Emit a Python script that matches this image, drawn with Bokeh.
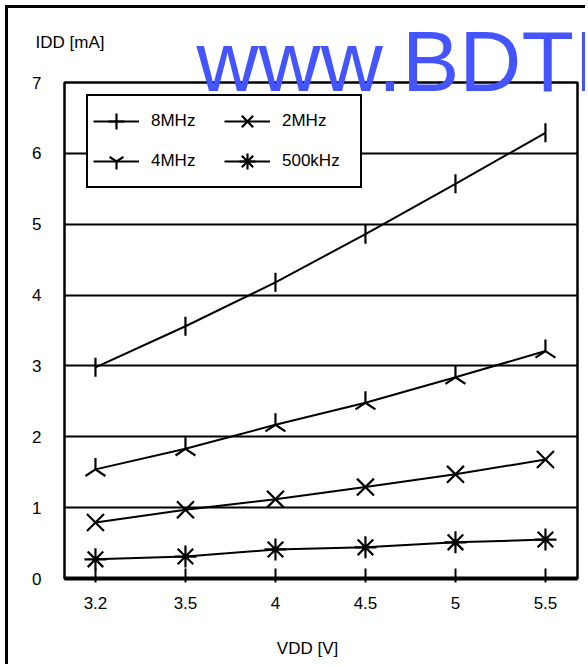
import math
from bokeh.plotting import figure
from bokeh.models import Range1d, FixedTicker, Legend, LegendItem
from bokeh.core.properties import value
from bokeh.embed import file_html
from bokeh.resources import INLINE

# ---- data ----
vdd_labels = ["3.2", "3.5", "4", "4.5", "5", "5.5"]
idd_8mhz = [2.98, 3.56, 4.18, 4.86, 5.57, 6.29]
idd_4mhz = [1.54, 1.83, 2.17, 2.48, 2.84, 3.21]
idd_2mhz = [0.79, 0.97, 1.12, 1.29, 1.47, 1.68]
idd_500khz = [0.27, 0.31, 0.41, 0.44, 0.51, 0.55]
y_ticks = [0, 1, 2, 3, 4, 5, 6, 7]
series_names = ["8MHz", "4MHz", "2MHz", "500kHz"]
y_title = "IDD [mA]"
x_title = "VDD [V]"
watermark = "www.BDTIC.com"

FONT = "Liberation Sans"

# ---- layout (pixels) ----
W, H = 580, 659
ORIGIN = 8                     # page offset of the figure content (margin + border)
FL, FT, FR, FB = 64, 82, 577, 578   # frame edges in page pixels
X0, X1 = -0.344, 5.356
Y0, Y1 = 0, 7


def px2data(px, py):
    """convert a page pixel position into data coordinates (for free text)"""
    x = X0 + (px - FL) * (X1 - X0) / (FR - FL)
    y = Y0 + (FB - py) * (Y1 - Y0) / (FB - FT)
    return x, y


xs = list(range(len(vdd_labels)))

p = figure(width=W, height=H, output_backend="svg", toolbar_location=None,
           x_range=Range1d(X0, X1), y_range=Range1d(Y0, Y1),
           min_border_left=FL - ORIGIN, min_border_top=FT - ORIGIN,
           min_border_right=ORIGIN + W - FR, min_border_bottom=ORIGIN + H - FB)
p.styles = {"margin-left": "5px", "margin-top": "5px",
            "border-left": "3px solid black", "border-top": "3px solid black"}

p.outline_line_color = "black"
p.outline_line_width = 2.5
p.xgrid.visible = False
p.ygrid.ticker = FixedTicker(ticks=y_ticks)
p.ygrid.grid_line_color = "black"
p.ygrid.grid_line_width = 2

# x axis
p.xaxis.ticker = FixedTicker(ticks=xs)
p.xaxis.major_label_overrides = {i: lab for i, lab in enumerate(vdd_labels)}
p.xaxis.axis_line_width = 4
p.xaxis.axis_line_color = "black"
p.xaxis.major_tick_in = 10
p.xaxis.major_tick_out = 4
p.xaxis.major_tick_line_width = 2
p.xaxis.major_tick_line_color = "black"
p.xaxis.minor_tick_line_color = None
p.xaxis.major_label_standoff = 14
p.xaxis.major_label_text_font = FONT
p.xaxis.major_label_text_font_size = "17px"
p.xaxis.major_label_text_color = "black"

# y axis
p.yaxis.ticker = FixedTicker(ticks=y_ticks)
p.yaxis.axis_line_color = None
p.yaxis.major_tick_line_color = None
p.yaxis.minor_tick_line_color = None
p.yaxis.major_label_standoff = 17
p.yaxis.major_label_text_font = FONT
p.yaxis.major_label_text_font_size = "17px"
p.yaxis.major_label_text_color = "black"

series = [idd_8mhz, idd_4mhz, idd_2mhz, idd_500khz]
markers = [("dash", math.pi / 2, 19), ("y", math.pi, 23), ("x", 0, 24), ("asterisk", 0, 22)]
legend_markers = ["cross", "y", "x", "asterisk"]

items = []
nan = float("nan")
for name, ys, (mk, ang, sz), lmk in zip(series_names, series, markers, legend_markers):
    l = p.line(xs, ys, line_color="black", line_width=2)
    s = p.scatter(xs, ys, marker=mk, angle=ang, size=sz, line_color="black",
                  line_width=2.2, fill_color=None)
    if lmk == mk:
        items.append(LegendItem(label=name, renderers=[l, s]))
    else:
        d = p.scatter([nan], [nan], marker=lmk, line_color="black", line_width=2.2,
                      fill_color=None)
        items.append(LegendItem(label=name, renderers=[l, d]))

legend = Legend(items=items, ncols=2, location=(22, 390))
legend.border_line_color = "black"
legend.border_line_alpha = 1
legend.border_line_width = 2
legend.background_fill_alpha = 1
legend.label_text_font = FONT
legend.label_text_font_size = "17px"
legend.label_text_color = "black"
legend.glyph_width = 46
legend.glyph_height = 40
legend.label_width = 73
legend.label_standoff = 12
legend.spacing = 0
legend.padding = 5
legend.margin = 0
p.add_layout(legend, "center")

# free texts (drawn at overlay level so they are not clipped to the frame)
tx, ty = px2data(35, 42)
p.text([tx], [ty], text=[y_title], text_font=value(FONT), text_font_size="17px",
       text_baseline="middle", text_align="left", text_color="black", level="overlay")
tx, ty = px2data(307, 648)
p.text([tx], [ty], text=[x_title], text_font=value(FONT), text_font_size="17px",
       text_baseline="middle", text_align="center", text_color="black", level="overlay")
tx, ty = px2data(196, 60)
p.text([tx], [ty], text=[watermark], text_font=value(FONT), text_font_size="86px",
       text_baseline="middle", text_align="left", text_color="#4455ff", level="overlay")

open("out.html", "w").write(file_html(p, INLINE))
